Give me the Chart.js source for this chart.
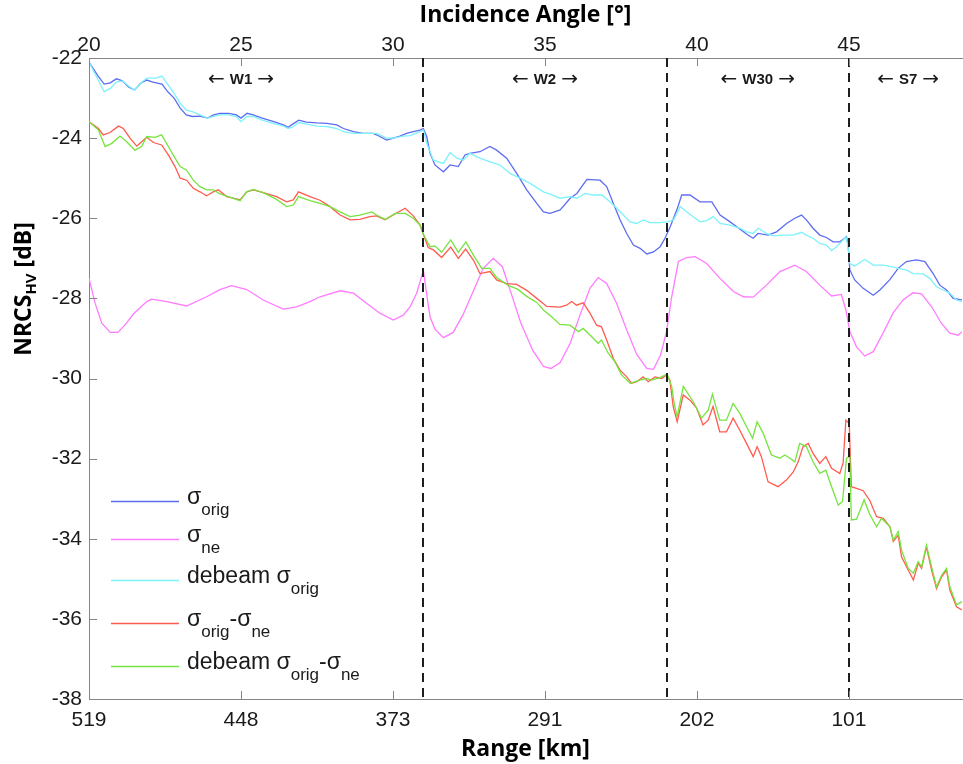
<!DOCTYPE html>
<html>
<head>
<meta charset="utf-8">
<title>NRCS HV across the swath</title>
<script src="https://cdn.jsdelivr.net/npm/chart.js@4/dist/chart.umd.min.js"></script>
<style>
  html, body { margin: 0; padding: 0; background: #fff; }
  canvas { display: block; }
</style>
</head>
<body>
<canvas id="chart-nrcs" width="963" height="764"></canvas>
<script>
// axes
var angleTicks = [20, 25, 30, 35, 40, 45];
var rangeTicks = ["519", "448", "373", "291", "202", "101"];
var angleMin = 20;
var angleMax = 48.72;
var dbMin = -38;
var dbMax = -22;
var dbStep = 2;

// beam boundaries and beam names
var beamEdges = [31, 39, 45];
var beamNames = ["W1", "W2", "W30", "S7"];
var beamCenters = [25, 35, 42, 46.95];
var beamLabelDb = -22.55;

// sigma_orig
var origAngle = [
  20.0, 20.3, 20.5, 20.7, 20.9, 21.1, 21.3, 21.5, 21.7, 21.9,
  22.1, 22.4, 22.6, 22.8, 23.0, 23.2, 23.4, 23.65, 23.9, 24.1,
  24.3, 24.6, 24.85, 25.0, 25.2, 25.4, 25.7, 26.05, 26.4, 26.55,
  26.7, 26.9, 27.15, 27.5, 27.82, 28.15, 28.37, 28.7, 29.02, 29.35,
  29.57, 29.79, 30.01, 30.23, 30.45, 30.67, 30.89, 31.0, 31.11, 31.22,
  31.38, 31.66, 31.88, 32.15, 32.37, 32.53, 32.86, 33.19, 33.41, 33.74,
  34.07, 34.4, 34.73, 34.95, 35.17, 35.5, 35.83, 36.05, 36.38, 36.81,
  37.03, 37.25, 37.47, 37.69, 37.91, 38.13, 38.35, 38.57, 38.79, 38.95,
  39.12, 39.34, 39.5, 39.77, 40.1, 40.49, 40.76, 41.09, 41.31, 41.64,
  41.85, 42.01, 42.34, 42.62, 42.95, 43.22, 43.44, 43.6, 43.82, 44.04,
  44.26, 44.48, 44.7, 44.86, 44.92, 44.97, 45.03, 45.19, 45.47, 45.8,
  46.02, 46.34, 46.62, 46.89, 47.22, 47.5, 47.77, 47.99, 48.21, 48.43,
  48.72
];
var origDb = [
  -22.1, -22.45, -22.65, -22.62, -22.52, -22.57, -22.72, -22.8, -22.63, -22.55,
  -22.6, -22.65, -22.85, -23.0, -23.25, -23.42, -23.46, -23.45, -23.5, -23.42,
  -23.38, -23.38, -23.42, -23.5, -23.38, -23.42, -23.5, -23.58, -23.67, -23.73,
  -23.65, -23.55, -23.6, -23.62, -23.63, -23.67, -23.76, -23.84, -23.88, -23.88,
  -23.96, -24.05, -24.0, -23.95, -23.88, -23.84, -23.8, -23.76, -23.96, -24.38,
  -24.67, -24.84, -24.67, -24.71, -24.42, -24.38, -24.34, -24.21, -24.3, -24.5,
  -24.88, -25.29, -25.63, -25.84, -25.88, -25.79, -25.5, -25.38, -25.03, -25.05,
  -25.21, -25.63, -26.04, -26.38, -26.67, -26.75, -26.89, -26.84, -26.71, -26.5,
  -26.21, -25.79, -25.42, -25.42, -25.59, -25.59, -25.92, -26.09, -26.21, -26.4,
  -26.5, -26.38, -26.42, -26.34, -26.13, -26.0, -25.92, -26.04, -26.25, -26.42,
  -26.48, -26.59, -26.59, -26.5, -26.46, -26.63, -27.29, -27.54, -27.75, -27.92,
  -27.79, -27.54, -27.25, -27.08, -27.04, -27.08, -27.38, -27.67, -27.79, -28.0,
  -28.04
];

// sigma_ne
var neAngle = [
  20.0, 20.2, 20.42, 20.7, 20.95, 21.2, 21.46, 21.9, 22.06, 22.56,
  23.21, 23.87, 24.31, 24.69, 25.19, 25.73, 26.39, 26.83, 27.27, 27.6,
  28.26, 28.7, 29.13, 29.57, 30.01, 30.34, 30.56, 30.78, 31.0, 31.11,
  31.22, 31.38, 31.66, 31.98, 32.31, 32.64, 32.97, 33.3, 33.6, 33.9,
  34.2, 34.6, 34.95, 35.2, 35.5, 35.83, 36.16, 36.48, 36.75, 37.03,
  37.36, 37.69, 38.02, 38.35, 38.57, 38.8, 39.0, 39.17, 39.39, 39.66,
  39.94, 40.32, 40.76, 41.2, 41.53, 41.85, 42.29, 42.73, 43.22, 43.6,
  44.04, 44.43, 44.75, 44.9, 45.03, 45.25, 45.52, 45.8, 46.12, 46.45,
  46.78, 47.11, 47.39, 47.72, 48.04, 48.32, 48.59, 48.72
];
var neDb = [
  -27.5, -28.12, -28.62, -28.85, -28.85, -28.65, -28.39, -28.08, -28.02, -28.08,
  -28.19, -27.96, -27.78, -27.68, -27.78, -28.04, -28.27, -28.21, -28.08, -27.96,
  -27.81, -27.87, -28.12, -28.37, -28.54, -28.42, -28.21, -27.87, -27.3, -27.9,
  -28.46, -28.77, -28.98, -28.85, -28.4, -27.82, -27.25, -27.0, -27.21, -27.9,
  -28.6, -29.3, -29.7, -29.75, -29.6, -29.12, -28.4, -27.75, -27.48, -27.63,
  -28.13, -28.79, -29.4, -29.75, -29.77, -29.42, -28.83, -27.96, -27.08, -26.98,
  -26.96, -27.13, -27.5, -27.83, -27.96, -27.97, -27.67, -27.33, -27.17, -27.33,
  -27.67, -27.94, -27.9, -28.29, -28.83, -29.21, -29.44, -29.33, -28.87, -28.37,
  -28.04, -27.86, -27.89, -28.21, -28.62, -28.87, -28.92, -28.83
];

// debeam sigma_orig
var debeamAngle = [
  20.0, 20.3, 20.5, 20.7, 20.9, 21.1, 21.3, 21.5, 21.7, 21.9,
  22.2, 22.4, 22.6, 22.8, 23.0, 23.2, 23.4, 23.65, 23.9, 24.1,
  24.3, 24.6, 24.85, 25.0, 25.2, 25.4, 25.7, 26.05, 26.4, 26.55,
  26.7, 26.9, 27.15, 27.5, 27.82, 28.15, 28.37, 28.7, 29.02, 29.46,
  29.79, 30.01, 30.34, 30.56, 30.89, 31.0, 31.11, 31.33, 31.66, 31.88,
  32.1, 32.31, 32.53, 32.86, 33.19, 33.52, 33.85, 34.18, 34.51, 34.95,
  35.17, 35.5, 35.83, 36.05, 36.32, 36.59, 36.87, 37.14, 37.36, 37.58,
  37.8, 38.02, 38.24, 38.46, 38.79, 39.01, 39.23, 39.45, 39.66, 39.88,
  40.1, 40.32, 40.54, 40.76, 41.09, 41.42, 41.63, 41.85, 42.01, 42.29,
  42.51, 42.84, 43.16, 43.44, 43.6, 43.82, 44.04, 44.26, 44.43, 44.59,
  44.81, 44.9, 44.97, 45.03, 45.19, 45.52, 45.8, 46.12, 46.4, 46.62,
  46.89, 47.11, 47.44, 47.66, 47.88, 48.1, 48.32, 48.54, 48.72
];
var debeamDb = [
  -22.1, -22.55, -22.84, -22.76, -22.6, -22.57, -22.7, -22.8, -22.63, -22.5,
  -22.5, -22.45, -22.67, -22.88, -23.13, -23.3, -23.34, -23.42, -23.5, -23.46,
  -23.42, -23.42, -23.46, -23.59, -23.46, -23.46, -23.55, -23.63, -23.7, -23.76,
  -23.72, -23.61, -23.65, -23.7, -23.71, -23.76, -23.84, -23.88, -23.88, -23.88,
  -24.0, -24.0, -23.95, -23.94, -23.84, -23.8, -24.13, -24.55, -24.63, -24.36,
  -24.5, -24.55, -24.38, -24.5, -24.59, -24.67, -24.88, -25.0, -25.13, -25.34,
  -25.4, -25.5, -25.46, -25.5, -25.38, -25.42, -25.42, -25.59, -25.75, -25.92,
  -26.09, -26.13, -26.04, -26.11, -26.11, -26.09, -26.04, -25.71, -25.84, -25.96,
  -26.09, -26.06, -25.96, -26.13, -26.17, -26.25, -26.34, -26.38, -26.25, -26.38,
  -26.44, -26.42, -26.42, -26.35, -26.42, -26.5, -26.63, -26.67, -26.81, -26.71,
  -26.54, -26.46, -26.7, -27.13, -27.19, -27.03, -27.17, -27.17, -27.21, -27.25,
  -27.29, -27.38, -27.39, -27.5, -27.71, -27.79, -27.87, -28.04, -28.08
];

// sigma_orig - sigma_ne
var diffAngle = [
  20.0, 20.31, 20.47, 20.69, 20.97, 21.13, 21.35, 21.57, 21.73, 21.9,
  22.12, 22.39, 22.61, 22.83, 23.0, 23.21, 23.43, 23.65, 23.87, 24.09,
  24.25, 24.53, 24.75, 24.97, 25.19, 25.41, 25.73, 26.17, 26.5, 26.72,
  26.89, 27.27, 27.6, 27.93, 28.26, 28.59, 28.91, 29.24, 29.46, 29.74,
  30.01, 30.4, 30.67, 30.89, 31.0, 31.16, 31.33, 31.6, 31.9, 32.15,
  32.39, 32.65, 32.86, 33.19, 33.41, 33.74, 34.07, 34.4, 34.73, 35.06,
  35.49, 35.71, 35.88, 36.04, 36.26, 36.48, 36.7, 36.86, 37.03, 37.25,
  37.47, 37.69, 37.85, 38.02, 38.23, 38.4, 38.62, 38.84, 39.0, 39.11,
  39.22, 39.35, 39.55, 39.77, 39.99, 40.2, 40.37, 40.53, 40.75, 40.97,
  41.19, 41.41, 41.63, 41.85, 41.98, 42.12, 42.34, 42.67, 42.95, 43.17,
  43.33, 43.49, 43.66, 43.82, 44.04, 44.24, 44.43, 44.7, 44.81, 44.9,
  45.01, 45.08, 45.25, 45.47, 45.69, 45.91, 46.13, 46.35, 46.46, 46.62,
  46.73, 46.95, 47.12, 47.28, 47.39, 47.55, 47.72, 47.88, 48.05, 48.21,
  48.32, 48.54, 48.72
];
var diffDb = [
  -23.59, -23.76, -23.92, -23.86, -23.7, -23.76, -24.0, -24.2, -24.09, -23.98,
  -24.11, -24.17, -24.42, -24.71, -25.0, -25.05, -25.25, -25.34, -25.44, -25.34,
  -25.29, -25.46, -25.5, -25.54, -25.34, -25.29, -25.36, -25.46, -25.59, -25.54,
  -25.34, -25.46, -25.55, -25.71, -25.92, -26.04, -26.03, -25.96, -25.94, -26.04,
  -25.92, -25.75, -25.94, -26.17, -26.4, -26.73, -26.79, -26.98, -26.72, -27.0,
  -26.77, -27.05, -27.38, -27.33, -27.54, -27.63, -27.65, -27.8, -28.0, -28.2,
  -28.22, -28.17, -28.08, -28.17, -28.11, -28.37, -28.67, -28.71, -29.04, -29.5,
  -29.79, -29.96, -30.12, -30.08, -29.96, -30.08, -29.96, -30.0, -29.91, -30.04,
  -30.7, -31.08, -30.41, -30.54, -30.74, -31.16, -31.04, -30.7, -31.33, -31.33,
  -30.99, -31.29, -31.62, -31.95, -31.7, -31.95, -32.58, -32.7, -32.53, -32.33,
  -32.08, -31.7, -31.62, -31.87, -32.12, -31.95, -32.24, -32.37, -32.1, -31.04,
  -31.12, -32.7, -32.74, -32.8, -33.05, -33.45, -33.49, -33.7, -34.07, -33.91,
  -34.45, -34.78, -35.03, -34.61, -34.74, -34.2, -34.78, -35.24, -34.95, -34.78,
  -35.28, -35.7, -35.78
];

// debeam sigma_orig - sigma_ne
var debeamDiffAngle = [
  20.0, 20.31, 20.53, 20.75, 21.02, 21.24, 21.51, 21.73, 21.9, 22.17,
  22.39, 22.61, 22.83, 23.0, 23.21, 23.43, 23.65, 23.87, 24.09, 24.31,
  24.58, 24.97, 25.19, 25.41, 25.73, 26.17, 26.5, 26.72, 26.89, 27.27,
  27.6, 27.93, 28.26, 28.59, 28.91, 29.3, 29.46, 29.74, 30.07, 30.4,
  30.67, 30.89, 31.0, 31.22, 31.38, 31.6, 31.9, 32.15, 32.4, 32.67,
  32.92, 33.19, 33.41, 33.8, 34.1, 34.4, 34.73, 34.95, 35.22, 35.49,
  35.82, 36.1, 36.26, 36.54, 36.75, 36.86, 37.08, 37.3, 37.52, 37.8,
  38.12, 38.34, 38.51, 38.78, 39.02, 39.17, 39.25, 39.35, 39.55, 39.88,
  40.15, 40.37, 40.51, 40.75, 40.97, 41.19, 41.41, 41.63, 41.83, 41.98,
  42.18, 42.45, 42.73, 42.89, 43.06, 43.22, 43.38, 43.6, 43.82, 44.04,
  44.24, 44.43, 44.65, 44.79, 44.92, 45.03, 45.08, 45.25, 45.5, 45.69,
  45.91, 46.07, 46.35, 46.46, 46.62, 46.73, 46.95, 47.12, 47.28, 47.39,
  47.55, 47.72, 47.88, 48.05, 48.21, 48.32, 48.54, 48.72
];
var debeamDiffDb = [
  -23.59, -23.8, -24.21, -24.13, -23.95, -24.09, -24.3, -24.21, -23.96, -23.98,
  -23.92, -24.21, -24.5, -24.71, -24.8, -25.05, -25.21, -25.29, -25.29, -25.39,
  -25.46, -25.56, -25.34, -25.28, -25.36, -25.53, -25.71, -25.67, -25.46, -25.56,
  -25.63, -25.71, -25.84, -25.96, -25.92, -25.84, -25.92, -26.03, -25.88, -25.88,
  -26.0, -26.17, -26.4, -26.71, -26.69, -26.85, -26.54, -26.85, -26.59, -26.95,
  -27.25, -27.25, -27.48, -27.68, -27.77, -27.95, -28.1, -28.29, -28.46, -28.65,
  -28.67, -28.83, -28.75, -28.96, -29.12, -29.04, -29.37, -29.58, -29.91, -30.12,
  -30.04, -30.0, -30.04, -29.98, -29.89, -30.2, -30.62, -30.95, -30.2, -30.58,
  -30.99, -30.79, -30.39, -31.04, -31.04, -30.62, -30.87, -31.2, -31.49, -31.08,
  -31.37, -31.91, -31.99, -31.91, -31.99, -32.08, -31.62, -31.7, -32.08, -32.37,
  -32.29, -32.7, -33.16, -33.07, -31.99, -31.95, -33.53, -33.51, -33.03, -33.4,
  -33.7, -33.49, -33.7, -34.03, -33.82, -34.28, -34.74, -34.86, -34.57, -34.7,
  -34.16, -34.7, -35.2, -34.91, -34.74, -35.2, -35.65, -35.57
];

// legend text, as [text, isSubscript] pieces
var legendParts = [
  [["\u03c3", 0], ["orig", 1]],
  [["\u03c3", 0], ["ne", 1]],
  [["debeam \u03c3", 0], ["orig", 1]],
  [["\u03c3", 0], ["orig", 1], ["-\u03c3", 0], ["ne", 1]],
  [["debeam \u03c3", 0], ["orig", 1], ["-\u03c3", 0], ["ne", 1]]
];

(function () {
  "use strict";

  var AXIS_GREY = "#858585";
  var TEXT = "#1a1a1a";
  var SANS = '"Liberation Sans", Arial, sans-serif';
  var TITLE = '"Open Sans", Lato, sans-serif';
  var TICK_LEN = 8;

  Chart.defaults.font.family = SANS;
  Chart.defaults.color = TEXT;

  function series(label, angles, values, color, order) {
    return {
      label: label,
      data: angles.map(function (a, i) {
        return { x: a, y: values[i] };
      }),
      borderColor: color,
      backgroundColor: color,
      borderWidth: 1.3,
      pointRadius: 0,
      pointHoverRadius: 0,
      tension: 0,
      fill: false,
      order: order,
    };
  }

  function fixedTicks(values) {
    return function (axis) {
      axis.ticks = values.map(function (v) {
        return { value: v };
      });
    };
  }

  // MATLAB style ticks, pointing into the plot
  function drawInwardTicks(chart) {
    var ctx = chart.ctx;
    var area = chart.chartArea;
    var xs = chart.scales.x;
    var ys = chart.scales.y;
    ctx.save();
    ctx.strokeStyle = AXIS_GREY;
    ctx.lineWidth = 1;
    ctx.beginPath();
    angleTicks.forEach(function (a) {
      var px = Math.round(xs.getPixelForValue(a)) + 0.5;
      ctx.moveTo(px, area.bottom);
      ctx.lineTo(px, area.bottom - TICK_LEN);
      ctx.moveTo(px, area.top);
      ctx.lineTo(px, area.top + TICK_LEN);
    });
    ys.ticks.forEach(function (t) {
      var py = Math.round(ys.getPixelForValue(t.value)) + 0.5;
      ctx.moveTo(area.left, py);
      ctx.lineTo(area.left + TICK_LEN, py);
    });
    ctx.stroke();
    ctx.restore();
  }

  function drawBeamLabel(ctx, name, cx, cy) {
    var arrowFont = '20px "DejaVu Sans", sans-serif';
    var nameFont = "bold 15px " + SANS;
    var gap = 5;
    ctx.font = arrowFont;
    var aw = ctx.measureText("\u2190").width;
    ctx.font = nameFont;
    var nw = ctx.measureText(name).width;
    var x = cx - (aw * 2 + nw + gap * 2) / 2;
    ctx.font = arrowFont;
    ctx.fillText("\u2190", x, cy);
    ctx.font = nameFont;
    ctx.fillText(name, x + aw + gap, cy);
    ctx.font = arrowFont;
    ctx.fillText("\u2192", x + aw + gap + nw + gap, cy);
  }

  function drawBeams(chart) {
    var ctx = chart.ctx;
    var area = chart.chartArea;
    var xs = chart.scales.x;
    var ys = chart.scales.y;
    ctx.save();
    ctx.strokeStyle = "#1e1e1e";
    ctx.lineWidth = 2;
    ctx.setLineDash([9, 6]);
    beamEdges.forEach(function (a) {
      var px = Math.round(xs.getPixelForValue(a));
      ctx.beginPath();
      ctx.moveTo(px, area.top);
      ctx.lineTo(px, area.bottom);
      ctx.stroke();
    });
    ctx.setLineDash([]);
    ctx.fillStyle = TEXT;
    ctx.textAlign = "left";
    ctx.textBaseline = "middle";
    beamNames.forEach(function (name, i) {
      drawBeamLabel(ctx, name, xs.getPixelForValue(beamCenters[i]), ys.getPixelForValue(beamLabelDb));
    });
    ctx.restore();
  }

  function drawRich(ctx, x, baseY, parts, mainSize, subSize, subDrop, family) {
    parts.forEach(function (p) {
      var sub = p[1] === 1;
      ctx.font = (family.bold ? "bold " : "") + (sub ? subSize : mainSize) + "px " + family.name;
      ctx.fillText(p[0], x, sub ? baseY + subDrop : baseY);
      x += ctx.measureText(p[0]).width;
    });
    return x;
  }

  function richWidth(ctx, parts, mainSize, subSize, family) {
    var w = 0;
    parts.forEach(function (p) {
      ctx.font = (family.bold ? "bold " : "") + (p[1] === 1 ? subSize : mainSize) + "px " + family.name;
      w += ctx.measureText(p[0]).width;
    });
    return w;
  }

  function drawLegend(chart) {
    var ctx = chart.ctx;
    var rowY = [501, 539, 580, 623, 666];
    ctx.save();
    ctx.textAlign = "left";
    ctx.textBaseline = "alphabetic";
    chart.data.datasets.forEach(function (ds, i) {
      ctx.strokeStyle = ds.borderColor;
      ctx.lineWidth = 1.5;
      ctx.beginPath();
      ctx.moveTo(111, rowY[i] + 0.5);
      ctx.lineTo(179, rowY[i] + 0.5);
      ctx.stroke();
      ctx.fillStyle = TEXT;
      drawRich(ctx, 187, rowY[i] + 3, legendParts[i], 23, 17, 11, { name: SANS, bold: false });
    });
    ctx.restore();
  }

  function drawYTitle(chart) {
    var ctx = chart.ctx;
    var parts = [["NRCS", 0], ["HV", 1], [" [dB]", 0]];
    var fam = { name: TITLE, bold: true };
    ctx.save();
    ctx.translate(31, 289);
    ctx.rotate(-Math.PI / 2);
    ctx.fillStyle = "#000";
    ctx.textAlign = "left";
    ctx.textBaseline = "alphabetic";
    var w = richWidth(ctx, parts, 23, 15, fam);
    drawRich(ctx, -w / 2, 0, parts, 23, 15, 5, fam);
    ctx.restore();
  }

  var decorations = {
    id: "matlabDecorations",
    afterDatasetsDraw: function (chart) {
      drawBeams(chart);
    },
    afterDraw: function (chart) {
      drawInwardTicks(chart);
      drawLegend(chart);
      drawYTitle(chart);
    },
  };

  function nrcsChart(canvasId) {
    var canvas = document.getElementById(canvasId);
    if (!canvas || typeof window.Chart === "undefined") {
      return;
    }
    new Chart(canvas, {
      type: "line",
      data: {
        datasets: [
          series("\u03c3orig", origAngle, origDb, "#5d6df2", 5),
          series("\u03c3ne", neAngle, neDb, "#ff7bff", 4),
          series("debeam \u03c3orig", debeamAngle, debeamDb, "#7ef2fb", 3),
          series("\u03c3orig-\u03c3ne", diffAngle, diffDb, "#ff5b4e", 2),
          series("debeam \u03c3orig-\u03c3ne", debeamDiffAngle, debeamDiffDb, "#76e43e", 1),
        ],
      },
      options: {
        responsive: false,
        animation: false,
        events: [],
        layout: { padding: { left: 0, right: 1, top: 0, bottom: 0 } },
        plugins: { legend: { display: false }, tooltip: { enabled: false } },
        scales: {
          x: {
            type: "linear",
            position: "bottom",
            min: angleMin,
            max: angleMax,
            afterBuildTicks: fixedTicks(angleTicks),
            afterFit: function (axis) { axis.height = 65; },
            grid: { display: false, drawTicks: false },
            border: { display: true, color: AXIS_GREY, width: 1 },
            ticks: {
              padding: 9,
              maxRotation: 0,
              autoSkip: false,
              color: TEXT,
              font: { size: 21 },
              callback: function (value, index) { return rangeTicks[index]; },
            },
            title: {
              display: true,
              text: "Range [km]",
              color: "#000",
              font: { family: TITLE, weight: "bold", size: 23 },
              padding: { top: 0, bottom: 1 },
            },
          },
          x2: {
            type: "linear",
            position: "top",
            min: angleMin,
            max: angleMax,
            afterBuildTicks: fixedTicks(angleTicks),
            afterFit: function (axis) { axis.height = 58; },
            grid: { display: false, drawTicks: false },
            border: { display: true, color: AXIS_GREY, width: 1 },
            ticks: {
              padding: 0,
              maxRotation: 0,
              autoSkip: false,
              color: TEXT,
              font: { size: 21 },
              callback: function (value) { return String(value); },
            },
            title: {
              display: true,
              text: "Incidence Angle [\u00b0]",
              color: "#000",
              font: { family: TITLE, weight: "bold", size: 23 },
              padding: { top: 2, bottom: 0 },
            },
          },
          y: {
            type: "linear",
            position: "left",
            min: dbMin,
            max: dbMax,
            afterFit: function (axis) { axis.width = 89; },
            grid: { display: false, drawTicks: false },
            border: { display: true, color: AXIS_GREY, width: 1 },
            ticks: { stepSize: dbStep, padding: 7, color: TEXT, font: { size: 21 } },
          },
        },
      },
      plugins: [decorations],
    });
  }

  nrcsChart("chart-nrcs");
})();
</script>
</body>
</html>
